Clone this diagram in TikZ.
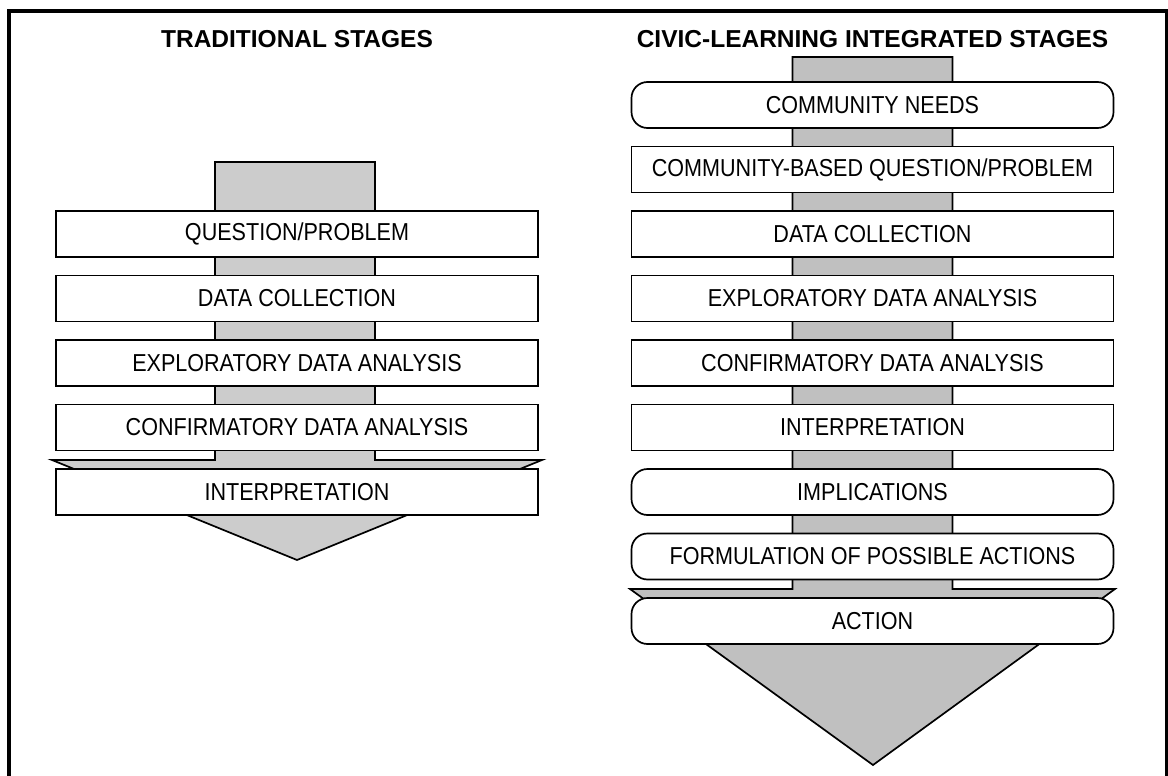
\documentclass[tikz,border=0pt]{standalone}
\usepackage{graphicx}
\usepackage{fontspec}
\setmainfont{Liberation Sans}
\definecolor{lshaft}{RGB}{204,204,204}
\definecolor{rshaft}{RGB}{192,192,192}
\newcommand{\stagelabel}[1]{\scalebox{0.88}[1]{#1}}

\begin{document}
\begin{tikzpicture}[x=1pt,y=1pt,yscale=-1,xscale=1,
  stage/.style={draw,line width=1.7pt,fill=white,minimum width=482pt,minimum height=46pt,inner sep=0pt,font=\fontsize{24.5}{26}\selectfont},
  civic/.style={stage,rounded corners=16pt},
  heading/.style={font=\bfseries\fontsize{24.5}{28}\selectfont}]
\useasboundingbox (0,0) rectangle (1168,776);

%Frame
\draw [line width=4pt] (9,790) -- (9,11) -- (1167,11) -- (1167,790) ;

%Headings
\node [heading] (tradhead) at (297,39) {TRADITIONAL STAGES};
\node [heading] (civichead) at (872.5,39) {CIVIC-LEARNING INTEGRATED STAGES};

%Shape: Arrow (traditional)
\draw [fill=lshaft,line width=1.7pt] (215,162) -- (375,162) -- (375,460) -- (542,460) -- (297,560) -- (52,460) -- (215,460) -- cycle ;
%Shape: Arrow (civic)
\draw [fill=rshaft,line width=1.7pt] (792.5,57) -- (952.5,57) -- (952.5,589) -- (1115,589) -- (873,765) -- (630,589) -- (792.5,589) -- cycle ;

%Traditional stages
\node [stage] (tquestion) at (297,234) {\stagelabel{QUESTION/PROBLEM}};
\node [stage] (tcollect) at (297,298.5) {\stagelabel{DATA COLLECTION}};
\node [stage] (texplore) at (297,363) {\stagelabel{EXPLORATORY DATA ANALYSIS}};
\node [stage] (tconfirm) at (297,427.5) {\stagelabel{CONFIRMATORY DATA ANALYSIS}};
\node [stage] (tinterp) at (297,492) {\stagelabel{INTERPRETATION}};

%Civic-learning stages
\node [civic] (cneeds) at (872.5,105) {\stagelabel{COMMUNITY NEEDS}};
\node [stage] (cquestion) at (872.5,169.5) {\stagelabel{COMMUNITY-BASED QUESTION/PROBLEM}};
\node [stage] (ccollect) at (872.5,234) {\stagelabel{DATA COLLECTION}};
\node [stage] (cexplore) at (872.5,298.5) {\stagelabel{EXPLORATORY DATA ANALYSIS}};
\node [stage] (cconfirm) at (872.5,363) {\stagelabel{CONFIRMATORY DATA ANALYSIS}};
\node [stage] (cinterp) at (872.5,427.5) {\stagelabel{INTERPRETATION}};
\node [civic] (cimpl) at (872.5,492) {\stagelabel{IMPLICATIONS}};
\node [civic] (cformul) at (872.5,556.5) {\stagelabel{FORMULATION OF POSSIBLE ACTIONS}};
\node [civic] (caction) at (872.5,621) {\stagelabel{ACTION}};

\end{tikzpicture}
\end{document}
